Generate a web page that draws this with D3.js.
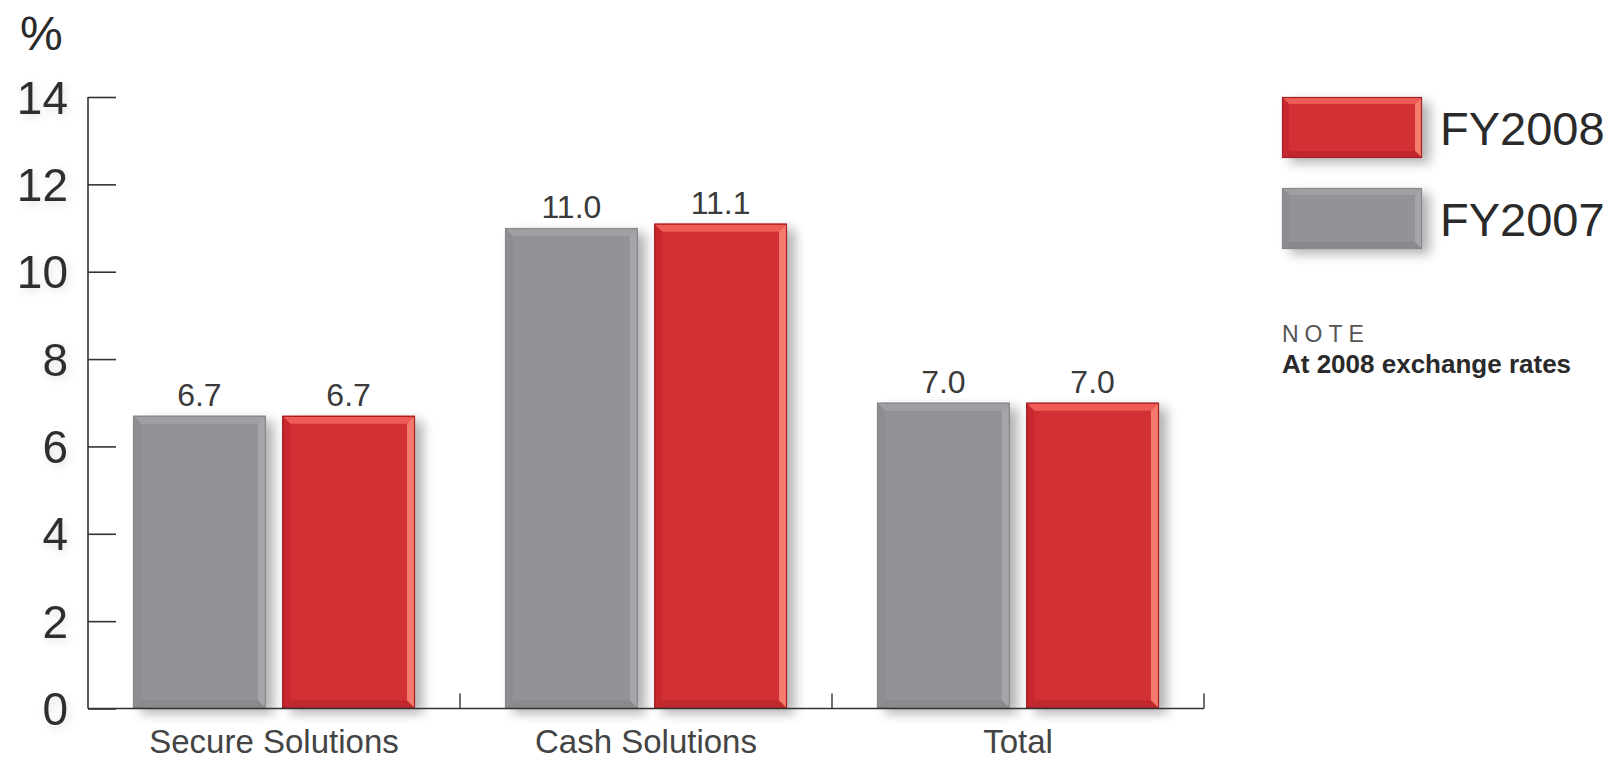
<!DOCTYPE html>
<html>
<head>
<meta charset="utf-8">
<script src="https://cdn.jsdelivr.net/npm/d3@7"></script>
<style>
  html, body { margin: 0; padding: 0; background: #ffffff; }
  svg { display: block; }
  text { font-family: "Liberation Sans", Arial, Helvetica, sans-serif; }
</style>
</head>
<body>
<svg id="chart" width="1623" height="763"></svg>
<script>
// Organic growth by division, %
const categories = ["Secure Solutions", "Cash Solutions", "Total"];
const seriesNames = ["FY2007", "FY2008"];
const fy2007 = [6.7, 11.0, 7.0];
const fy2008 = [6.7, 11.1, 7.0];
const yTicks = [0, 2, 4, 6, 8, 10, 12, 14];
const legendOrder = ["FY2008", "FY2007"];
const noteTitle = "NOTE";
const noteText = "At 2008 exchange rates";

const palettes = {
  FY2008: { fill: "#d33036", top: "#ef5c55", right: "#f57c6c", bottom: "#c0282e", left: "#c7282e", edge: "#a81e24" },
  FY2007: { fill: "#939297", top: "#a09fa4", right: "#a6a5aa", bottom: "#8a898e", left: "#8e8d92", edge: "#88878c" }
};

const rows = categories.map((c, i) => ({ category: c, FY2007: fy2007[i], FY2008: fy2008[i] }));

const svg = d3.select("#chart");
const defs = svg.append("defs");

const shadow = defs.append("filter").attr("id", "barShadow")
  .attr("x", "-20%").attr("y", "-20%").attr("width", "150%").attr("height", "150%");
shadow.append("feGaussianBlur").attr("stdDeviation", 6);

const halo = defs.append("filter").attr("id", "textHalo")
  .attr("x", "-30%").attr("y", "-30%").attr("width", "160%").attr("height", "160%");
halo.append("feDropShadow").attr("dx", 2).attr("dy", 3).attr("stdDeviation", 4)
  .attr("flood-color", "#000").attr("flood-opacity", 0.12);

const plot = { left: 88, right: 1204, top: 97, bottom: 708.5 };

const y = d3.scaleLinear().domain([0, 14]).range([plot.bottom, plot.top]);
const x0 = d3.scaleBand().domain(categories).range([plot.left, plot.right]).padding(0);
const x1 = d3.scaleBand().domain(seriesNames).range([45, x0.bandwidth() - 45]).paddingInner(0.11);

// Bevelled bar: base face plus four edge facets and a soft drop shadow
function bevelBar(g, x, yTop, w, h, pal, b) {
  g.append("rect").attr("x", x + 8).attr("y", yTop + 5).attr("width", w).attr("height", h)
    .attr("fill", "#000").attr("opacity", 0.3).attr("filter", "url(#barShadow)");
  g.append("rect").attr("x", x).attr("y", yTop).attr("width", w).attr("height", h).attr("fill", pal.fill);
  const facets = [
    { pts: [[x, yTop], [x + w, yTop], [x + w - b, yTop + b], [x + b, yTop + b]], fill: pal.top },
    { pts: [[x + w, yTop], [x + w, yTop + h], [x + w - b, yTop + h - b], [x + w - b, yTop + b]], fill: pal.right },
    { pts: [[x, yTop + h], [x + w, yTop + h], [x + w - b, yTop + h - b], [x + b, yTop + h - b]], fill: pal.bottom },
    { pts: [[x, yTop], [x, yTop + h], [x + b, yTop + h - b], [x + b, yTop + b]], fill: pal.left }
  ];
  facets.forEach(f => g.append("polygon").attr("points", f.pts.map(p => p.join(",")).join(" ")).attr("fill", f.fill));
  g.append("rect").attr("x", x + 0.5).attr("y", yTop + 0.5).attr("width", w - 1).attr("height", h - 1)
    .attr("fill", "none").attr("stroke", pal.edge).attr("stroke-width", 1.2);
}

// Bars
const groups = svg.append("g").selectAll("g").data(rows).join("g")
  .attr("transform", d => `translate(${x0(d.category)},0)`);

groups.each(function(d) {
  const g = d3.select(this);
  seriesNames.forEach(s => {
    bevelBar(g, x1(s), y(d[s]), x1.bandwidth(), y(0) - y(d[s]), palettes[s], 8);
  });
});

// Value labels
groups.each(function(d) {
  const g = d3.select(this);
  seriesNames.forEach(s => {
    g.append("text")
      .attr("x", x1(s) + x1.bandwidth() / 2)
      .attr("y", y(d[s]) - 10)
      .attr("text-anchor", "middle")
      .attr("font-size", 32)
      .attr("fill", "#3a3a3a")
      .text(d3.format(".1f")(d[s]));
  });
});

// Y axis
const yAxis = svg.append("g").attr("transform", `translate(${plot.left},0)`)
  .call(d3.axisRight(y).tickValues(yTicks).tickSize(28).tickFormat(""));
yAxis.select(".domain").attr("d", `M0,${plot.top}V${plot.bottom}`).attr("stroke", "#333").attr("stroke-width", 1.6);
yAxis.selectAll(".tick line").attr("stroke", "#333").attr("stroke-width", 1.6);

svg.append("g").selectAll("text").data(yTicks).join("text")
  .attr("x", 68)
  .attr("y", d => y(d))
  .attr("dy", "0.36em")
  .attr("text-anchor", "end")
  .attr("font-size", 46)
  .attr("fill", "#2e2e2e")
  .attr("filter", "url(#textHalo)")
  .text(d => d);

svg.append("text")
  .attr("x", 20).attr("y", 50)
  .attr("font-size", 48)
  .attr("fill", "#2a2a2a")
  .text("%");

// X axis with group separators
const xAxis = svg.append("g").attr("transform", `translate(0,${plot.bottom})`);
xAxis.append("line").attr("x1", plot.left).attr("x2", plot.right).attr("y1", 0).attr("y2", 0)
  .attr("stroke", "#333").attr("stroke-width", 1.6);
xAxis.selectAll("line.sep").data(categories).join("line").attr("class", "sep")
  .attr("x1", d => x0(d) + x0.bandwidth()).attr("x2", d => x0(d) + x0.bandwidth())
  .attr("y1", 0).attr("y2", -15)
  .attr("stroke", "#333").attr("stroke-width", 1.4);

svg.append("g").selectAll("text").data(categories).join("text")
  .attr("x", d => x0(d) + x0.bandwidth() / 2)
  .attr("y", 753)
  .attr("text-anchor", "middle")
  .attr("font-size", 33)
  .attr("fill", "#444")
  .text(d => d);

// Legend
const legend = svg.append("g");
const ly = d3.scaleBand().domain(legendOrder).range([97, 249]).paddingInner(0.33);
legendOrder.forEach(s => {
  bevelBar(legend, 1282, ly(s), 140, ly.bandwidth(), palettes[s], 7);
  legend.append("text")
    .attr("x", 1440)
    .attr("y", ly(s) + 48)
    .attr("font-size", 47)
    .attr("fill", "#2a2a2a")
    .text(s);
});

svg.append("text")
  .attr("x", 1282).attr("y", 342)
  .attr("font-size", 23)
  .attr("letter-spacing", 6)
  .attr("fill", "#555")
  .text(noteTitle);

svg.append("text")
  .attr("x", 1282).attr("y", 373)
  .attr("font-size", 26)
  .attr("font-weight", "bold")
  .attr("fill", "#2a2a2a")
  .text(noteText);
</script>
</body>
</html>
